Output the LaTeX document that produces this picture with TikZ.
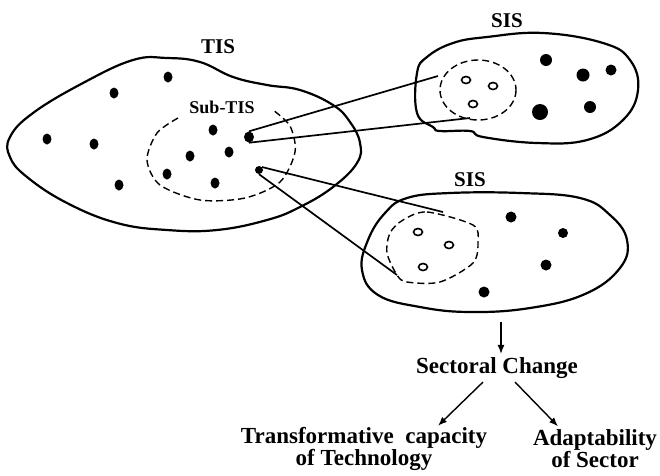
\documentclass[tikz,border=0pt]{standalone}
\usepackage{fontspec}
\setmainfont{Liberation Serif}
\usetikzlibrary{shapes.geometric}
\usetikzlibrary{arrows.meta}
\newcommand{\bigtxt}{\fontsize{23}{31}\selectfont\bfseries}

\begin{document}
\begin{tikzpicture}[x=1pt,y=-1pt,
  blob/.style={line width=2.2pt,smooth cycle,tension=0.7},
  dot/.style={ellipse,fill,inner sep=0pt,minimum width=9pt,minimum height=11pt},
  bigdot/.style={circle,fill,inner sep=0pt,minimum size=12pt},
  ring/.style={ellipse,draw,line width=1.6pt,inner sep=0pt,minimum width=9pt,minimum height=7pt},
  subline/.style={line width=1.4pt,dash pattern=on 7pt off 4pt},
  link/.style={line width=1.7pt},
  arr/.style={-{Latex[length=9pt,width=7pt]},line width=1.4pt}]
\useasboundingbox (0,0) rectangle (660,475);
\draw[blob] plot coordinates {(10,137) (33,113) (83,83) (133,60) (167,58) (200,62) (233,77)
  (267,85) (300,90) (333,105) (350,122) (360,143) (357,163) (333,187) (300,207)
  (267,220) (217,230) (167,230) (117,223) (67,203) (27,177) (10,157)}; %TIS
\draw[blob] plot coordinates {(417,73) (427,57) (453,43) (487,37) (543,33) (603,43)
  (630,60) (638,90) (623,120) (587,140) (537,143) (483,137) (470,131) (440,131)
  (433,127) (417,113)}; %upper SIS
\draw[blob] plot coordinates {(385,213) (407,198) (450,193) (520,193) (580,198) (610,215)
  (627,240) (620,268) (585,294) (530,308) (470,312) (420,307) (378,295) (362,270)
  (368,240)}; %lower SIS
\node (tis) at (218,47) {\fontsize{21}{24}\selectfont\bfseries TIS};
\node (sisA) at (507,21) {\fontsize{21}{24}\selectfont\bfseries SIS};
\node (sisB) at (470,180) {\fontsize{21}{24}\selectfont\bfseries SIS};
\node (subtis) at (222,107) {\fontsize{18}{20}\selectfont\bfseries Sub-TIS};
\draw[subline] plot[smooth] coordinates {(178,118) (157,133) (147,160) (160,185)
  (200,200) (245,198) (280,182) (295,152) (290,126) (273,110)}; %sub-TIS
\draw[subline] (478,90) ellipse [x radius=38,y radius=30]; %upper sub
\draw[subline] plot[smooth cycle] coordinates {(403,220) (427,212) (473,225) (478,242)
  (473,263) (440,282) (407,282) (397,275) (387,253) (390,233)}; %lower sub
\node[dot] at (168,77) {}; %TIS dots
\node[dot] at (114,93) {};
\node[dot] at (47,139) {};
\node[dot] at (94,144) {};
\node[dot] at (119,185) {};
\node[dot] at (213,130) {};
\node[dot] at (229,152) {};
\node[dot] at (190,156) {};
\node[dot] at (167,174) {};
\node[dot] at (215,183) {};
\node[dot,minimum width=10pt] (tisA) at (249,137) {};
\node[dot,minimum width=8pt,minimum height=8pt] (tisB) at (259,170) {};
\node[ring] at (466,80) {}; %upper SIS
\node[ring] at (493,86) {};
\node[ring] at (473,104) {};
\node[bigdot,minimum size=12pt] at (546,60) {};
\node[bigdot,minimum size=13pt] at (583,75) {};
\node[bigdot,minimum size=11pt] at (611,70) {};
\node[bigdot,minimum size=16pt] at (540,112) {};
\node[bigdot,minimum size=12pt] at (590,107) {};
\node[ring] at (418,232) {}; %lower SIS
\node[ring] at (449,245) {};
\node[ring] at (423,267) {};
\node[bigdot,minimum size=11pt] at (511,217) {};
\node[bigdot,minimum size=10pt] at (563,233) {};
\node[bigdot,minimum size=11pt] at (546,265) {};
\node[bigdot,minimum size=11pt] at (484,292) {};
\coordinate (inAa) at (438,76);
\coordinate (inAb) at (470,118);
\coordinate (inBa) at (443,212);
\coordinate (inBb) at (397,275);
\draw[link] (tisA.north) -- (inAa); %links
\draw[link] (tisA.south) -- (inAb);
\draw[link] (tisB.north east) -- (inBa);
\draw[link] (tisB.south) -- (inBb);
\node (sc) at (497,368) {\bigtxt Sectoral Change};
\node[align=center] (tc) at (364,449) {\bigtxt Transformative\ \ capacity\\\bigtxt of Technology};
\node[align=center] (ad) at (595,449) {\bigtxt Adaptability\\\bigtxt of Sector};
\coordinate (sisBbot) at (501,322);
\draw[arr] (sisBbot) -- (sc.north -| sisBbot);
\draw[arr] ([xshift=-14pt]sc.south) -- ([xshift=74pt,yshift=-2pt]tc.north);
\draw[arr] ([xshift=18pt]sc.south) -- ([xshift=-37pt]ad.north);
\end{tikzpicture}
\end{document}
